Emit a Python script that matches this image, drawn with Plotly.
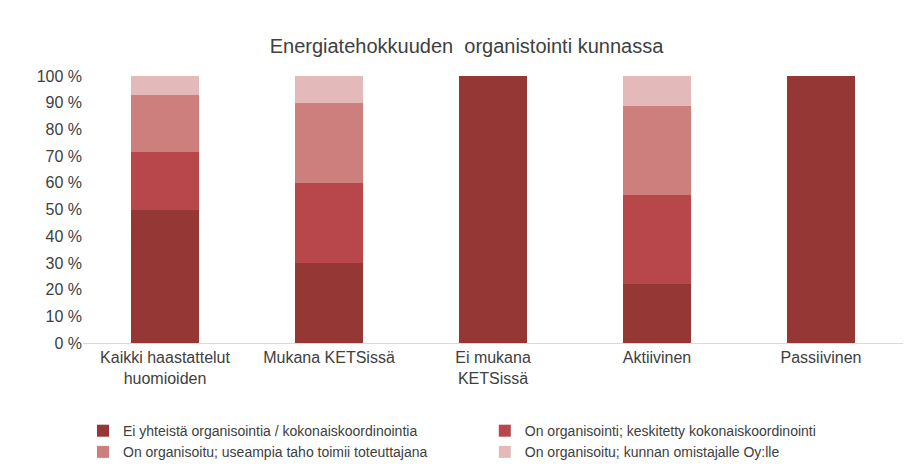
import plotly.graph_objects as go

categories = ["Kaikki haastattelut<br>huomioiden", "Mukana KETSissä", "Ei mukana<br>KETSissä", "Aktiivinen", "Passiivinen"]
series_names = ["Ei yhteistä organisointia / kokonaiskoordinointia",
                "On organisointi; keskitetty kokonaiskoordinointi",
                "On organisoitu; useampia taho toimii toteuttajana",
                "On organisoitu; kunnan omistajalle Oy:lle"]
values = [
    [50.0, 30.0, 100.0, 22.2, 100.0],
    [21.4, 30.0, 0.0, 33.3, 0.0],
    [21.4, 30.0, 0.0, 33.3, 0.0],
    [7.2, 10.0, 0.0, 11.2, 0.0],
]
colors = ["#953735", "#B7474A", "#CD7F7E", "#E3B9B9"]
yticks = list(range(0, 101, 10))

fig = go.Figure()
for name, vals, c in zip(series_names, values, colors):
    fig.add_bar(x=categories, y=vals, name=name, marker_color=c, width=0.41,
                marker_line_width=0)

fig.update_layout(
    barmode="stack", width=917, height=475, paper_bgcolor="white", plot_bgcolor="white",
    font=dict(family="Liberation Sans, Arial", size=16, color="#404040"),
    title=dict(text="Energiatehokkuuden  organistointi kunnassa", x=0.5, y=0.935, xanchor="center",
               font=dict(size=20, color="#404040")),
    margin=dict(l=75, r=22, t=68, b=140, autoexpand=False),
    yaxis=dict(range=[0, 100], tickvals=yticks, ticktext=[f"{v} %" for v in yticks],
               showgrid=False, showline=False, ticks="", zeroline=False),
    xaxis=dict(showline=True, linecolor="#D9D9D9", ticks=""),
    legend=dict(orientation="h", x=0.0, y=-0.27, xanchor="left", yanchor="top",
                font=dict(size=14, color="#404040"), traceorder="normal",
                entrywidthmode="fraction", entrywidth=0.49),
    showlegend=True,
)
fig.write_html("out.html")
